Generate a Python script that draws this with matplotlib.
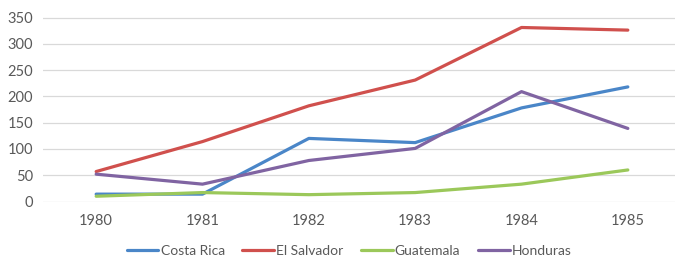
import matplotlib.pyplot as plt

years = ["1980", "1981", "1982", "1983", "1984", "1985"]
costa_rica = [14, 14, 120, 112, 178, 218]
el_salvador = [57, 114, 182, 231, 331, 326]
guatemala = [10, 17, 13, 17, 33, 60]
honduras = [52, 33, 78, 101, 209, 139]

series = [
    ("Costa Rica", costa_rica, "#4A86C8"),
    ("El Salvador", el_salvador, "#D0504D"),
    ("Guatemala", guatemala, "#9BC85A"),
    ("Honduras", honduras, "#8064A2"),
]

plt.rcParams['font.family'] = ['Lato', 'DejaVu Sans']

fig = plt.figure(figsize=(6.75, 2.57), dpi=100)
ax = fig.add_axes([43 / 675, 1 - 201.5 / 257, 638 / 675, 184 / 257 * 375 / 350])

x = list(range(len(years)))
for name, vals, col in series:
    ax.plot(x, vals, color=col, lw=2.3, label=name, solid_capstyle='round')

ax.set_xlim(-0.5, 5.5)
ax.set_ylim(0, 375)
ax.set_yticks(range(0, 351, 50))
ax.set_xticks(x)
ax.set_xticklabels(years)
ax.grid(axis='y', color='#D9D9D9', lw=0.9)
ax.set_axisbelow(True)
for s in ax.spines.values():
    s.set_visible(False)
ax.tick_params(length=0, labelsize=10.5, colors='#595959', pad=7)
ax.tick_params(axis='x', pad=9)

leg = fig.legend(loc='center', bbox_to_anchor=(349 / 675, 1 - 251 / 257), ncol=4,
                 frameon=False, fontsize=10, handlelength=2.3, handletextpad=0.15,
                 columnspacing=1.25, labelcolor='#595959')

fig.savefig("out.png", dpi=100)
